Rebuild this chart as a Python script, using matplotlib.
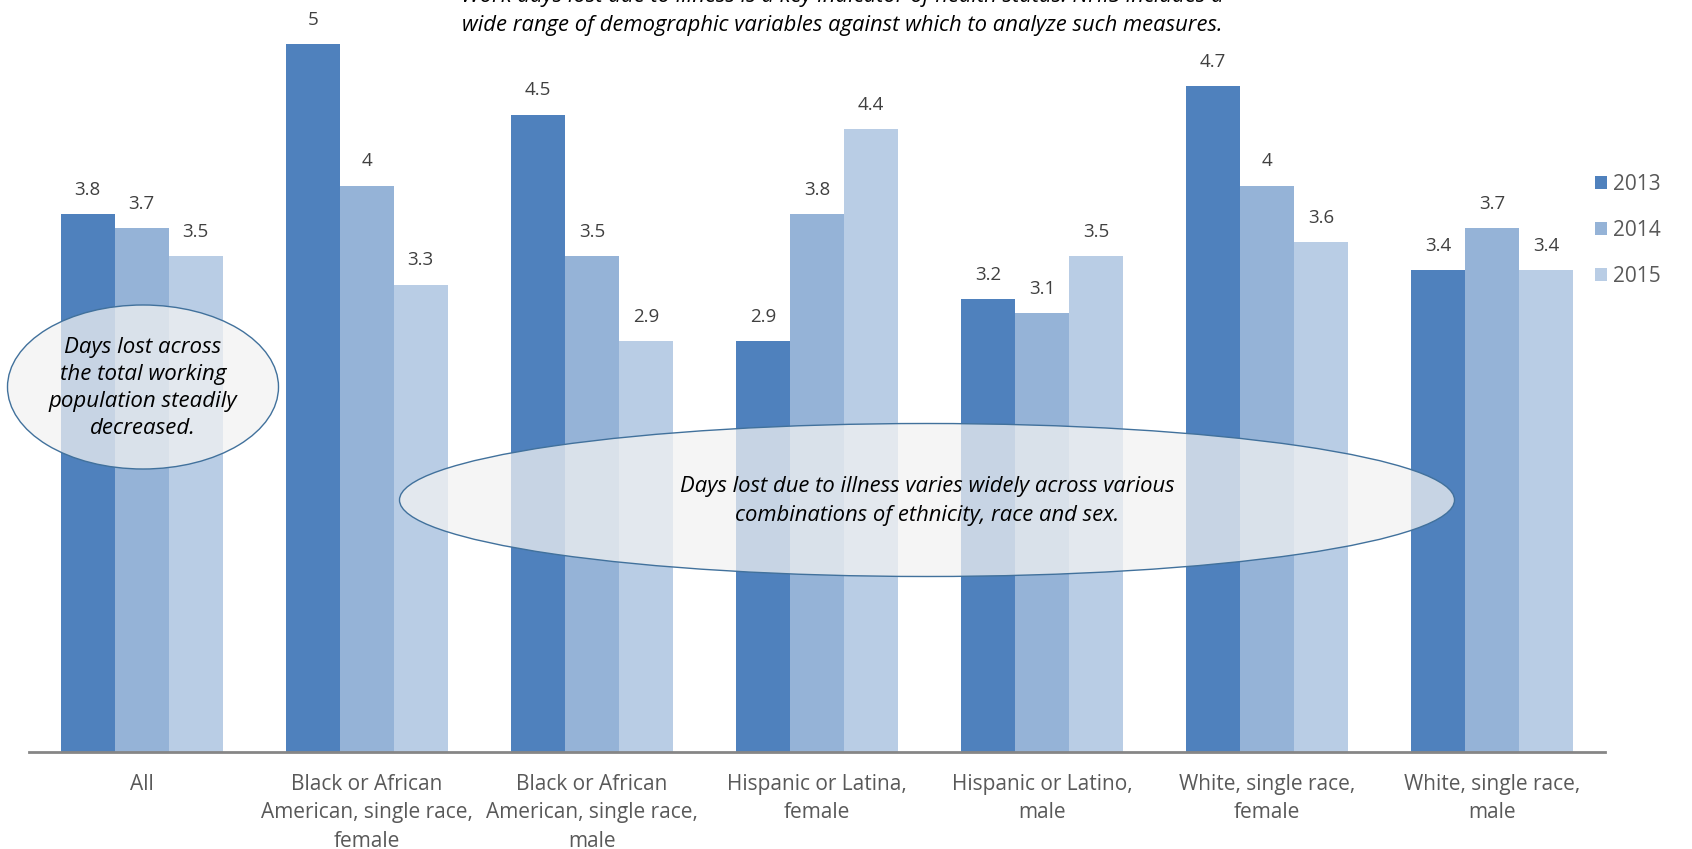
import matplotlib.pyplot as plt
import numpy as np
from matplotlib.patches import Ellipse

# data
categories = ["All",
              "Black or African\nAmerican, single race,\nfemale",
              "Black or African\nAmerican, single race,\nmale",
              "Hispanic or Latina,\nfemale",
              "Hispanic or Latino,\nmale",
              "White, single race,\nfemale",
              "White, single race,\nmale"]
years = ["2013", "2014", "2015"]
days_2013 = [3.8, 5, 4.5, 2.9, 3.2, 4.7, 3.4]
days_2014 = [3.7, 4, 3.5, 3.8, 3.1, 4, 3.7]
days_2015 = [3.5, 3.3, 2.9, 4.4, 3.5, 3.6, 3.4]
colors = ["#4F81BD", "#95B3D7", "#B9CDE5"]

plt.rcParams['font.family'] = ['Open Sans', 'DejaVu Sans']

W, H = 1692, 849
fig = plt.figure(figsize=(W / 100, H / 100), dpi=100)
ax = fig.add_axes([29 / W, 1 - 752 / H, (1605 - 29) / W, 752 / H])

x = np.arange(len(categories))
bw = 0.24
for i, (vals, yr) in enumerate(zip([days_2013, days_2014, days_2015], years)):
    bars = ax.bar(x + (i - 1) * bw, vals, bw, color=colors[i], label=yr, zorder=2)
    for b, v in zip(bars, vals):
        ax.annotate(f"{v:g}", (b.get_x() + b.get_width() / 2, v), xytext=(0, 11),
                    textcoords="offset points", ha="center", va="bottom",
                    fontsize=13.5, color="#404040")

ax.set_xlim(-0.5, len(categories) - 0.5)
ax.set_ylim(0, 5.31)
ax.set_yticks([])
ax.set_xticks(x)
ax.set_xticklabels(categories, fontsize=15, color="#595959", linespacing=1.45)
ax.tick_params(axis="x", length=0, pad=16)
for s in ["top", "right", "left"]:
    ax.spines[s].set_visible(False)
ax.spines["bottom"].set_color("#868686")
ax.spines["bottom"].set_linewidth(2)
ax.spines["bottom"].set_zorder(3)

leg = ax.legend(loc="upper left", bbox_to_anchor=(0.982, 0.794), frameon=False,
                fontsize=15, handlelength=0.55, handleheight=0.55, handletextpad=0.3,
                labelspacing=1.2, labelcolor="#595959")

# notes
fig.text(842 / W, 1 - 11 / H, "Work days lost due to illness is a key indicator of health status. NHIS includes a\n"
         "wide range of demographic variables against which to analyze such measures.",
         ha="center", va="center", fontsize=15.8, style="italic", color="black", linespacing=1.45)

e1 = Ellipse((143 / W, 1 - 387 / H), 271 / W, 164 / H, transform=fig.transFigure,
             facecolor=(0.949, 0.949, 0.949, 0.74), edgecolor="#41719C", lw=1.0, zorder=5)
e2 = Ellipse((927 / W, 1 - 500 / H), 1055 / W, 153 / H, transform=fig.transFigure,
             facecolor=(0.949, 0.949, 0.949, 0.74), edgecolor="#41719C", lw=1.0, zorder=5)
fig.add_artist(e1)
fig.add_artist(e2)
fig.text(143 / W, 1 - 388 / H, "Days lost across\nthe total working\npopulation steadily\ndecreased.",
         ha="center", va="center", fontsize=16, style="italic", linespacing=1.36, zorder=6)
fig.text(927 / W, 1 - 501 / H, "Days lost due to illness varies widely across various\n"
         "combinations of ethnicity, race and sex.",
         ha="center", va="center", fontsize=15.8, style="italic", linespacing=1.52, zorder=6)

fig.savefig("out.png", dpi=100)
